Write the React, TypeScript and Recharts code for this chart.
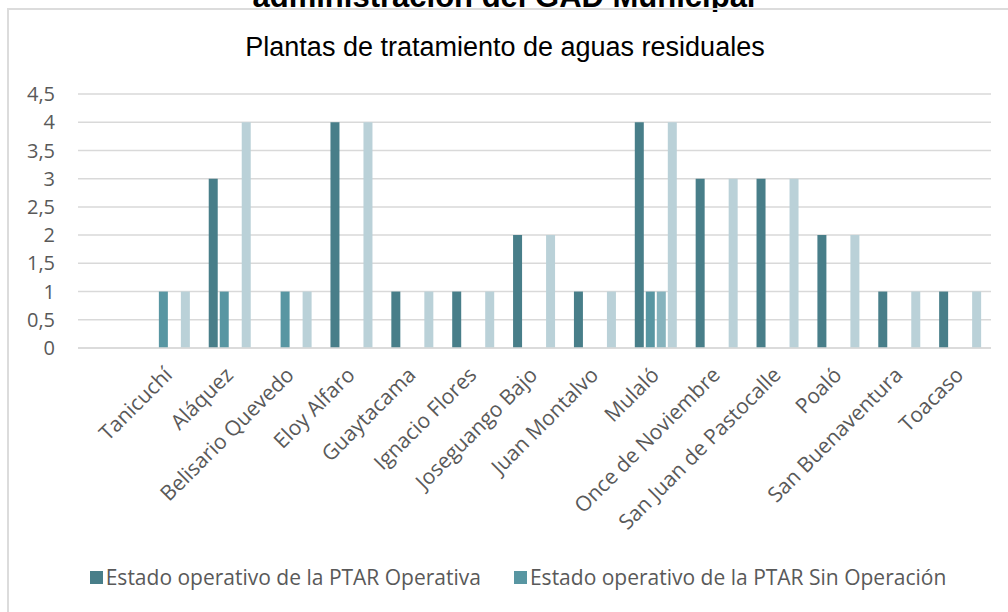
import React from 'react';
import { BarChart, Bar, XAxis, YAxis, CartesianGrid, Legend } from 'recharts';

// parroquias (first slot is an empty category in the source sheet)
const categories = [
  '',
  'Tanicuchí',
  'Aláquez',
  'Belisario Quevedo',
  'Eloy Alfaro',
  'Guaytacama',
  'Ignacio Flores',
  'Joseguango Bajo',
  'Juan Montalvo',
  'Mulaló',
  'Once de Noviembre',
  'San Juan de Pastocalle',
  'Poaló',
  'San Buenaventura',
  'Toacaso',
];

const operativa = [0, 0, 3, 0, 4, 1, 1, 2, 1, 4, 3, 3, 2, 1, 1];
const sinOperacion = [0, 1, 1, 1, 0, 0, 0, 0, 0, 1, 0, 0, 0, 0, 0];
const serie3 = [0, 0, 0, 0, 0, 0, 0, 0, 0, 1, 0, 0, 0, 0, 0];
const serie4 = [0, 1, 4, 1, 4, 1, 1, 2, 1, 4, 3, 3, 2, 1, 1];

const yTicks = [0, 0.5, 1, 1.5, 2, 2.5, 3, 3.5, 4, 4.5];

const seriesNames = [
  'Estado operativo de la PTAR Operativa',
  'Estado operativo de la PTAR Sin Operación',
];

const data = categories.map((name, i) => ({
  name,
  operativa: operativa[i],
  sinOperacion: sinOperacion[i],
  serie3: serie3[i],
  serie4: serie4[i],
}));

const FONT = '"Open Sans", "Noto Sans", sans-serif';
const TEXT_GRAY = '#595959';

const CategoryTick = (props: any) => {
  const { x, y, payload } = props;
  return (
    <g transform={`translate(${x - 1},${y + 21})`}>
      <text
        x={0}
        y={0}
        dy="0.35em"
        textAnchor="end"
        transform="rotate(-45)"
        fill={TEXT_GRAY}
        fontSize={21}
        fontFamily={FONT}
      >
        {payload.value}
      </text>
    </g>
  );
};

const LegendContent = () => {
  const colors = ['#487E89', '#5896A2'];
  return (
    <div
      style={{
        height: 24,
        display: 'flex',
        justifyContent: 'center',
        alignItems: 'center',
        fontFamily: FONT,
        fontSize: 21,
        color: TEXT_GRAY,
      }}
    >
      {seriesNames.map((n, i) => (
        <div key={n} style={{ display: 'flex', alignItems: 'center', marginLeft: i ? 33 : 0 }}>
          <span style={{ width: 13, height: 13, background: colors[i], marginRight: 3, display: 'inline-block' }} />
          <span>{n}</span>
        </div>
      ))}
    </div>
  );
};

export default function App() {
  return (
    <div
      style={{
        position: 'absolute',
        left: 0,
        top: 0,
        width: 1008,
        height: 612,
        overflow: 'hidden',
        background: '#fff',
      }}
    >
      {/* document heading, cut off at the top of the capture */}
      <svg width={1008} height={12} style={{ position: 'absolute', left: 0, top: 0 }}>
        <text
          x={504}
          y={7}
          textAnchor="middle"
          fontFamily='"Liberation Sans", Arial, sans-serif'
          fontWeight="bold"
          fontSize={31}
          fill="#000"
        >
          administración del GAD Municipal
        </text>
      </svg>

      <div
        style={{
          position: 'absolute',
          left: 7,
          top: 8,
          width: 1100,
          height: 700,
          border: '2px solid #dcdcdc',
        }}
      />

      <div
        style={{
          position: 'absolute',
          left: 0,
          top: 32,
          width: 1010,
          textAlign: 'center',
          fontFamily: '"Liberation Sans", Arial, sans-serif',
          fontSize: 27,
          color: '#000',
        }}
      >
        Plantas de tratamiento de aguas residuales
      </div>

      <div style={{ position: 'absolute', left: 8, top: 9 }}>
        <BarChart
          width={1020}
          height={603}
          data={data}
          margin={{ top: 85, right: 37, left: 0, bottom: 23 }}
          barSize={9}
          barGap={2}
        >
          <CartesianGrid vertical={false} stroke="#d9d9d9" strokeWidth={1.5} />
          <XAxis
            dataKey="name"
            interval={0}
            height={217}
            tickLine={false}
            tickSize={0}
            axisLine={{ stroke: '#d9d9d9', strokeWidth: 1.5 }}
            tick={<CategoryTick />}
          />
          <YAxis
            width={70}
            domain={[0, 4.5]}
            ticks={yTicks}
            interval={0}
            tickLine={false}
            axisLine={false}
            tickSize={0}
            tickMargin={23}
            tickFormatter={(v: number) => String(v).replace('.', ',')}
            tick={{ fill: TEXT_GRAY, fontSize: 20, fontFamily: FONT }}
          />
          <Legend
            verticalAlign="bottom"
            height={24}
            wrapperStyle={{ height: 24, width: 1020, left: 0 }}
            content={<LegendContent />}
          />
          <Bar dataKey="operativa" name={seriesNames[0]} fill="#487E89" isAnimationActive={false} />
          <Bar dataKey="sinOperacion" name={seriesNames[1]} fill="#5896A2" isAnimationActive={false} />
          <Bar dataKey="serie3" name="Serie 3" fill="#86B3BD" legendType="none" isAnimationActive={false} />
          <Bar dataKey="serie4" name="Serie 4" fill="#BAD1D8" legendType="none" isAnimationActive={false} />
        </BarChart>
      </div>
    </div>
  );
}
